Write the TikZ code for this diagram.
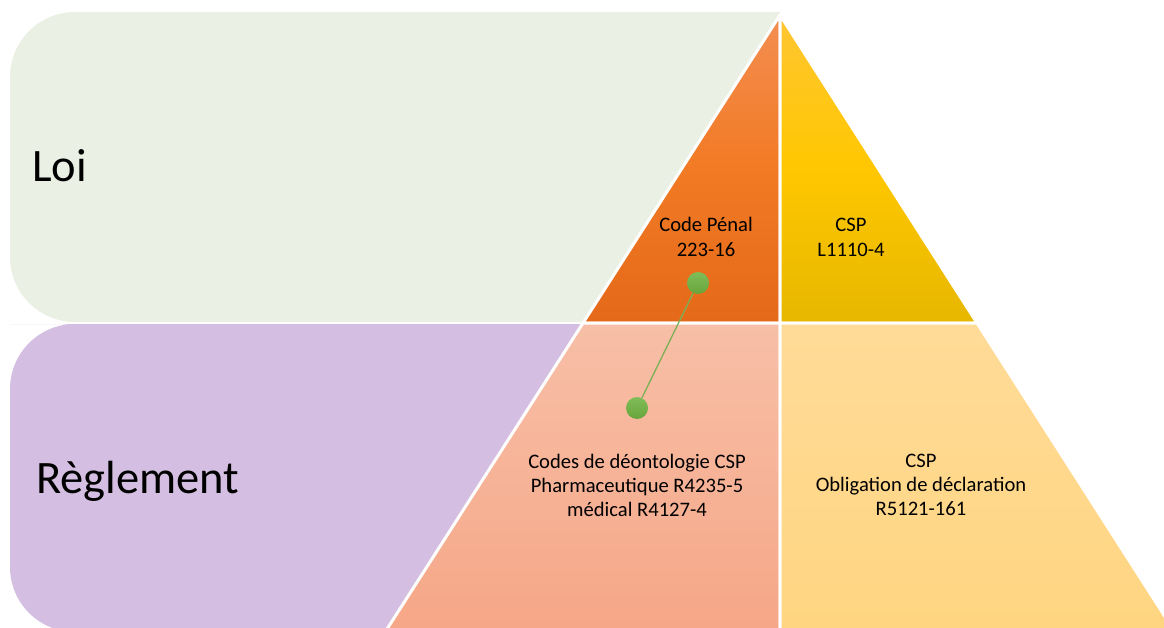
\documentclass[tikz,border=0pt]{standalone}
\usepackage{fontspec}
\setmainfont{Carlito}
\definecolor{greenband}{RGB}{234,241,228}
\definecolor{purpleband}{RGB}{212,191,226}
\definecolor{orangeT}{RGB}{243,142,82}
\definecolor{orangeM}{RGB}{242,122,36}
\definecolor{orangeB}{RGB}{228,105,25}
\definecolor{yellowT}{RGB}{255,198,51}
\definecolor{yellowM}{RGB}{255,199,0}
\definecolor{yellowB}{RGB}{230,183,0}
\definecolor{salmonT}{RGB}{247,191,167}
\definecolor{salmonB}{RGB}{246,166,134}
\definecolor{paleT}{RGB}{255,219,152}
\definecolor{paleB}{RGB}{255,213,128}
\definecolor{dotT}{RGB}{128,188,88}
\definecolor{dotB}{RGB}{104,166,60}
\definecolor{linkgreen}{RGB}{125,175,85}
\begin{document}
\begin{tikzpicture}[x=1pt,y=-1pt,
  tier/.style={draw=white,line width=3pt,line join=round},
  bigtext/.style={font=\fontsize{46.5}{56}\selectfont,anchor=base west,inner sep=0pt},
  smalltext/.style={font=\fontsize{20.6}{24.4}\selectfont,anchor=base,inner sep=0pt},
  dot/.style={circle,minimum size=22pt,inner sep=0pt,top color=dotT,bottom color=dotB},
  link/.style={draw=linkgreen,line width=1.3pt}]
\useasboundingbox (0,0) rectangle (1164,628);
\clip (0,0) rectangle (1164,628);
% background bands
\fill[greenband] (780,12) -- (780,322) -- (75,322) [rounded corners=65pt] -- (10,322) -- (10,12) -- (75,12) [sharp corners] -- cycle;
\fill[purpleband] (780,324) -- (780,632) -- (75,632) [rounded corners=65pt] -- (10,632) -- (10,324) -- (75,324) [sharp corners] -- cycle;
% pyramid tiers
\path[tier,top color=orangeT,bottom color=orangeB,middle color=orangeM] (780,15) -- (583,323) -- (780,323) -- cycle;
\path[tier,top color=yellowT,bottom color=yellowB,middle color=yellowM] (780,15) -- (780,323) -- (977,323) -- cycle;
\path[tier,top color=salmonT,bottom color=salmonB] (583,323) -- (380,640) -- (780,640) -- (780,323) -- cycle;
\path[tier,top color=paleT,bottom color=paleB] (780,323) -- (780,640) -- (1180,640) -- (977,323) -- cycle;
% labels
\node[bigtext] (loi) at (32,182) {Loi};
\node[bigtext] (reg) at (36,493) {Règlement};
\node[smalltext] (penal) at (706,232) {\begin{tabular}[t]{@{}c@{}}Code Pénal\\223-16\end{tabular}};
\node[smalltext] (cspL) at (851,232) {\begin{tabular}[t]{@{}c@{}}CSP\\L1110-4\end{tabular}};
\node[smalltext] (deonto) at (637,468) {\begin{tabular}[t]{@{}c@{}}Codes de déontologie CSP\\Pharmaceutique R4235-5\\médical R4127-4\end{tabular}};
\node[smalltext] (cspR) at (921,467) {\begin{tabular}[t]{@{}c@{}}CSP\\Obligation de déclaration\\R5121-161\end{tabular}};
% connector
\node[dot] (d1) at (698,283) {};
\node[dot] (d2) at (637,408) {};
\draw[link] (d1) -- (d2);
\end{tikzpicture}
\end{document}
